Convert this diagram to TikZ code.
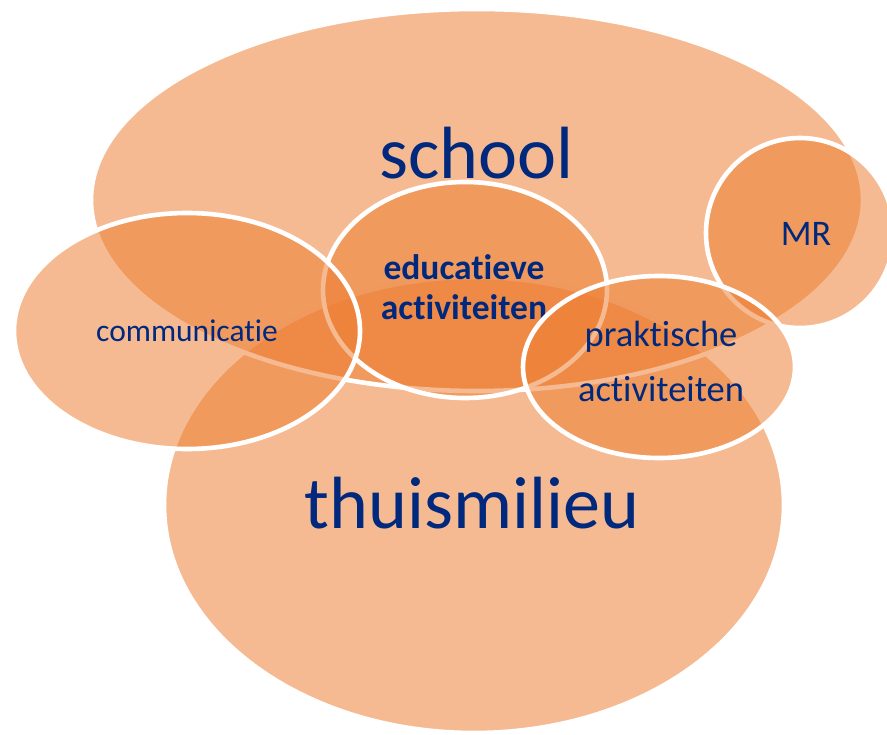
\documentclass[tikz,border=0pt]{standalone}
\usepackage{fontspec}
\setmainfont{Carlito}[Ligatures={NoCommon}]
\usetikzlibrary{shapes.geometric}
\definecolor{blobfill}{RGB}{237,125,49}
\definecolor{txtblue}{RGB}{0,41,125}
\begin{document}
\begin{tikzpicture}[x=1pt,y=-1pt,
  blob/.style={ellipse, draw=white, line width=4.6pt, fill=blobfill, fill opacity=0.53, inner sep=0pt, outer sep=0pt},
  lbl/.style={text=txtblue, inner sep=0pt, anchor=base, align=center}]
\useasboundingbox (0,0) rectangle (887,735);
\clip (0,0) rectangle (887,735);
% home environment
\node[blob, minimum width=620pt, minimum height=456pt] (thuis) at (474,505) {};
\node[lbl, font=\fontsize{74}{80}\selectfont] (thuistxt) at (472,528) {thuismilieu};
% school
\node[blob, minimum width=772pt, minimum height=382pt] (school) at (477,200) {};
\node[lbl, font=\fontsize{74}{80}\selectfont] (schooltxt) at (476.5,179) {school};
% MR
\node[blob, minimum width=188pt, minimum height=190pt] (mr) at (800,233) {};
\node[lbl, font=\fontsize{36}{40}\selectfont] (mrtxt) at (806,246) {MR};
% educational activities
\node[blob, minimum width=284pt, minimum height=216pt] (edu) at (465,290) {};
\node[lbl, font=\fontsize{35.5}{40}\selectfont\bfseries] (edutxt) at (464,320) {educatieve\\activiteiten};
% communication
\node[blob, minimum width=346pt, minimum height=236pt] (comm) at (187,331) {};
\node[lbl, font=\fontsize{31.5}{36}\selectfont] (commtxt) at (187,342) {communicatie};
% practical activities
\node[blob, minimum width=272pt, minimum height=182pt] (prak) at (659,367) {};
\node[lbl, font=\fontsize{36.5}{55}\selectfont] (praktxt) at (661,402) {praktische\\activiteiten};
\end{tikzpicture}
\end{document}
